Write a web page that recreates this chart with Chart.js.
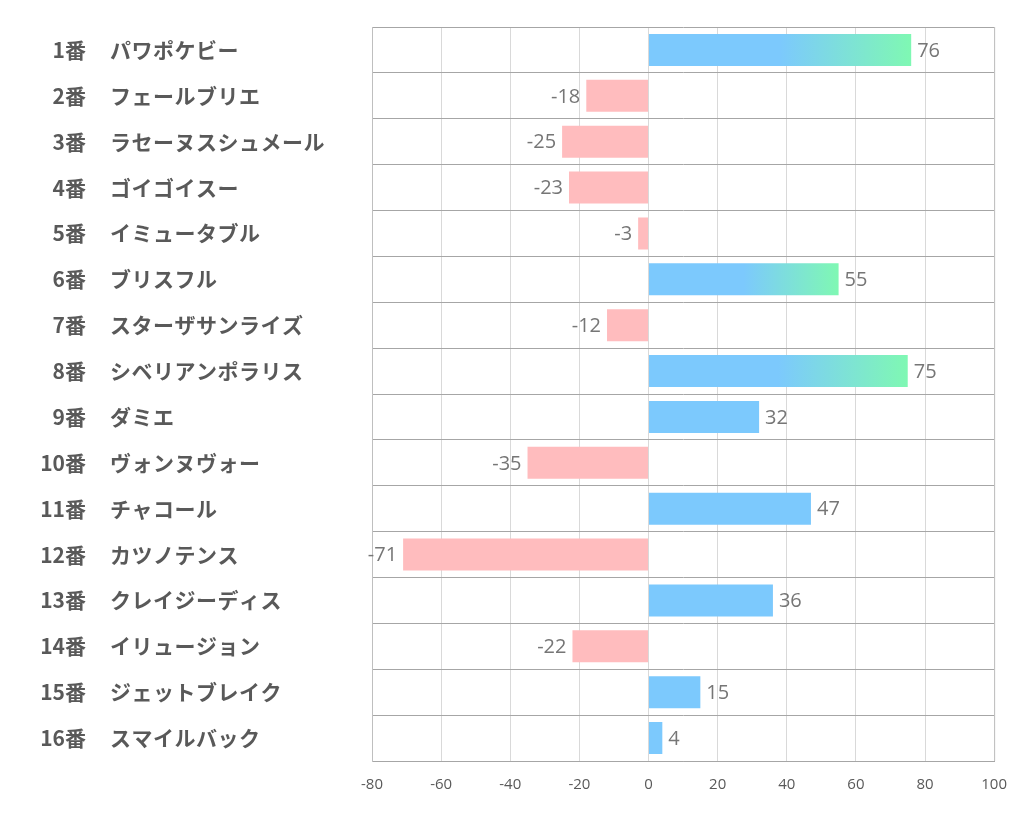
<!DOCTYPE html>
<html>
<head>
<meta charset="utf-8">
<script src="https://cdn.jsdelivr.net/npm/chart.js@4"></script>
<style>
  body { margin: 0; background: #fff; }
  #wrap { width: 1022px; height: 834px; }
</style>
</head>
<body>
<div id="wrap"><canvas id="chart"></canvas></div>
<script>
// Data
const horseNos = ['1番', '2番', '3番', '4番', '5番', '6番', '7番', '8番',
  '9番', '10番', '11番', '12番', '13番', '14番', '15番', '16番'];
const horseNames = ['パワポケビー', 'フェールブリエ', 'ラセーヌスシュメール', 'ゴイゴイスー',
  'イミュータブル', 'ブリスフル', 'スターザサンライズ', 'シベリアンポラリス',
  'ダミエ', 'ヴォンヌヴォー', 'チャコール', 'カツノテンス',
  'クレイジーディス', 'イリュージョン', 'ジェットブレイク', 'スマイルバック'];
const scores = [76, -18, -25, -23, -3, 55, -12, 75, 32, -35, 47, -71, 36, -22, 15, 4];
const xTicks = [-80, -60, -40, -20, 0, 20, 40, 60, 80, 100];

const BLUE = '#7cc9fd';
const GREEN = '#7ff8b3';
const PINK = '#ffbcbe';
const TEXT = '#595959';

const barColor = (ctx) => {
  const v = ctx.raw;
  if (v < 0) return PINK;
  if (v < 50) return BLUE;
  const chart = ctx.chart;
  if (!chart.chartArea) return BLUE;
  const xs = chart.scales.x;
  const x0 = xs.getPixelForValue(v / 2);
  const x1 = xs.getPixelForValue(v);
  const g = chart.ctx.createLinearGradient(x0, 0, x1, 0);
  g.addColorStop(0, BLUE);
  g.addColorStop(1, GREEN);
  return g;
};

// labels on the left + value labels
const labelPlugin = {
  id: 'labels',
  afterDraw(chart) {
    const c = chart.ctx;
    const ys = chart.scales.y;
    c.save();
    c.textBaseline = 'middle';
    horseNos.forEach((no, i) => {
      const y = ys.getPixelForValue(i);
      c.fillStyle = TEXT;
      c.font = 'bold 21px "Noto Sans CJK JP", sans-serif';
      c.letterSpacing = '0px';
      c.textAlign = 'right';
      c.fillText(no, 86, y);
      c.letterSpacing = '0.5px';
      c.textAlign = 'left';
      c.fillText(horseNames[i], 110, y);
    });
    c.letterSpacing = '0px';
    const meta = chart.getDatasetMeta(0);
    c.font = '20px "Open Sans", sans-serif';
    c.fillStyle = '#767676';
    meta.data.forEach((bar, i) => {
      const v = scores[i];
      if (v >= 0) {
        c.textAlign = 'left';
        c.fillText(String(v), bar.x + 6, bar.y + 1);
      } else {
        c.textAlign = 'right';
        c.fillText(String(v), bar.x - 6, bar.y + 1);
      }
    });
    // right border
    c.strokeStyle = '#bfbfbf';
    c.lineWidth = 1;
    c.beginPath();
    c.moveTo(chart.chartArea.right + 0.5, chart.chartArea.top);
    c.lineTo(chart.chartArea.right + 0.5, chart.chartArea.bottom);
    c.stroke();
    c.restore();
  }
};

new Chart(document.getElementById('chart'), {
  type: 'bar',
  data: {
    labels: horseNames,
    datasets: [{
      data: scores,
      backgroundColor: barColor,
      borderWidth: 0,
      barPercentage: 0.7,
      categoryPercentage: 1
    }]
  },
  options: {
    indexAxis: 'y',
    responsive: true,
    maintainAspectRatio: false,
    animation: false,
    layout: {
      padding: { left: 372, right: 27, top: 27, bottom: 25 }
    },
    plugins: {
      legend: { display: false },
      tooltip: { enabled: false }
    },
    scales: {
      x: {
        min: -80,
        max: 100,
        afterBuildTicks: (axis) => { axis.ticks = xTicks.map(v => ({ value: v })); },
        grid: { color: '#d9d9d9', drawTicks: false },
        border: { color: '#a6a6a6' },
        ticks: {
          color: TEXT,
          padding: 15,
          font: { family: '"Open Sans", sans-serif', size: 15 }
        }
      },
      y: {
        grid: { color: '#a6a6a6', drawTicks: false, offset: true },
        border: { color: '#bfbfbf' },
        ticks: { display: false }
      }
    }
  },
  plugins: [labelPlugin]
});
</script>
</body>
</html>
